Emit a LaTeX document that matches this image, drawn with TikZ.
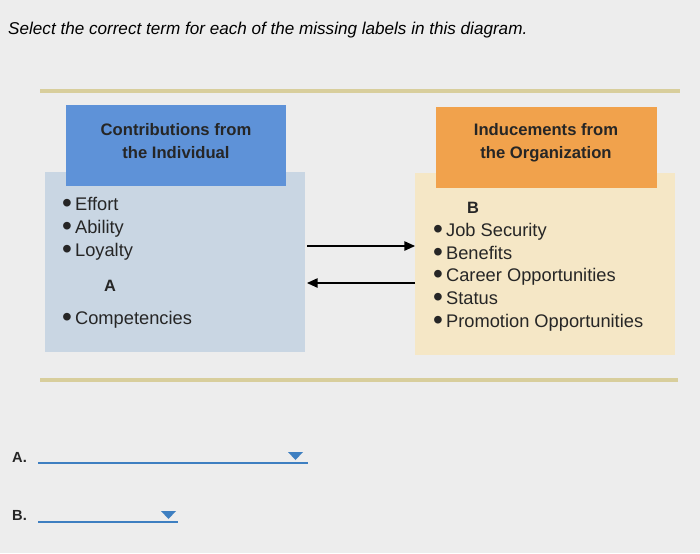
\documentclass[tikz,border=0pt]{standalone}
\usepackage{fontspec}
\setmainfont{Liberation Sans}
\usetikzlibrary{arrows.meta}
\definecolor{bg}{HTML}{EDEDED}
\definecolor{olive}{HTML}{D8CE9C}
\definecolor{lblue}{HTML}{C9D6E3}
\definecolor{hblue}{HTML}{5E92D8}
\definecolor{lorange}{HTML}{F5E7C6}
\definecolor{horange}{HTML}{F1A24C}
\definecolor{selblue}{HTML}{3E7FC1}
\tikzset{
 txt/.style={anchor=west,inner sep=0pt,font=\fontsize{15.6}{18}\selectfont,text=black!85},
 head/.style={align=center,inner sep=0pt,font=\bfseries\fontsize{14.2}{19.6}\selectfont,text=black!85},
 arr/.style={line width=1pt,-{Triangle[length=9pt,width=8pt]}},
 rule/.style={olive,line width=4pt},
 sel/.style={selblue,line width=1.2pt},
 tri/.style={fill=selblue,draw=none}
}
\newcommand{\bul}{\raisebox{-1.2pt}{\fontsize{24}{24}\selectfont\textbullet}\,}
\begin{document}
\begin{tikzpicture}[x=0.03cm,y=-0.03cm]
\fill[bg] (0,0) rectangle (700,553);
\useasboundingbox (0,0) rectangle (700,553);
\node[anchor=west,inner sep=0pt,font=\itshape\fontsize{14.6}{16}\selectfont] (title) at (8,30) {Select the correct term for each of the missing labels in this diagram.};
\draw[rule] (40,91) -- (680,91);
\draw[rule] (40,380) -- (678,380);
\fill[lblue] (45,172) rectangle (305,352);
\fill[hblue] (66,105) rectangle (286,186);
\fill[lorange] (415,173) rectangle (675,355);
\fill[horange] (436,107) rectangle (657,188);
\node[head] (lh) at (176,141) {Contributions from\\the Individual};
\node[head] (rh) at (546,143) {Inducements from\\the Organization};
\node[txt] (e) at (62,205) {\bul Effort};
\node[txt] (ab) at (62,229) {\bul Ability};
\node[txt] (lo) at (62,252) {\bul Loyalty};
\node[txt,font=\bfseries\fontsize{14}{16}\selectfont] (A) at (104,286) {A};
\node[txt] (co) at (62,320) {\bul Competencies};
\node[txt,font=\bfseries\fontsize{14}{16}\selectfont] (B) at (467,208) {B};
\node[txt] (js) at (433,232) {\bul Job Security};
\node[txt] (be) at (433,254) {\bul Benefits};
\node[txt] (ca) at (433,277) {\bul Career Opportunities};
\node[txt] (st) at (433,299) {\bul Status};
\node[txt] (pr) at (433,323) {\bul Promotion Opportunities};
\coordinate (a1) at (307,246); \coordinate (a2) at (415,246);
\coordinate (b1) at (415,283); \coordinate (b2) at (307,283);
\draw[arr] (a1) -- (a2);
\draw[arr] (b1) -- (b2);
\node[txt,font=\bfseries\fontsize{12.5}{14}\selectfont] (la) at (12,457) {A.};
\node[txt,font=\bfseries\fontsize{12.5}{14}\selectfont] (lb) at (12,515) {B.};
\coordinate (sa1) at (38,463); \coordinate (sa2) at (308,463);
\coordinate (sb1) at (38,522); \coordinate (sb2) at (178,522);
\draw[sel] (sa1) -- (sa2);
\draw[sel] (sb1) -- (sb2);
\fill[tri] (288,452) -- (303,452) -- (295.5,460) -- cycle;
\fill[tri] (161,511) -- (176,511) -- (168.5,519) -- cycle;
\end{tikzpicture}
\end{document}
